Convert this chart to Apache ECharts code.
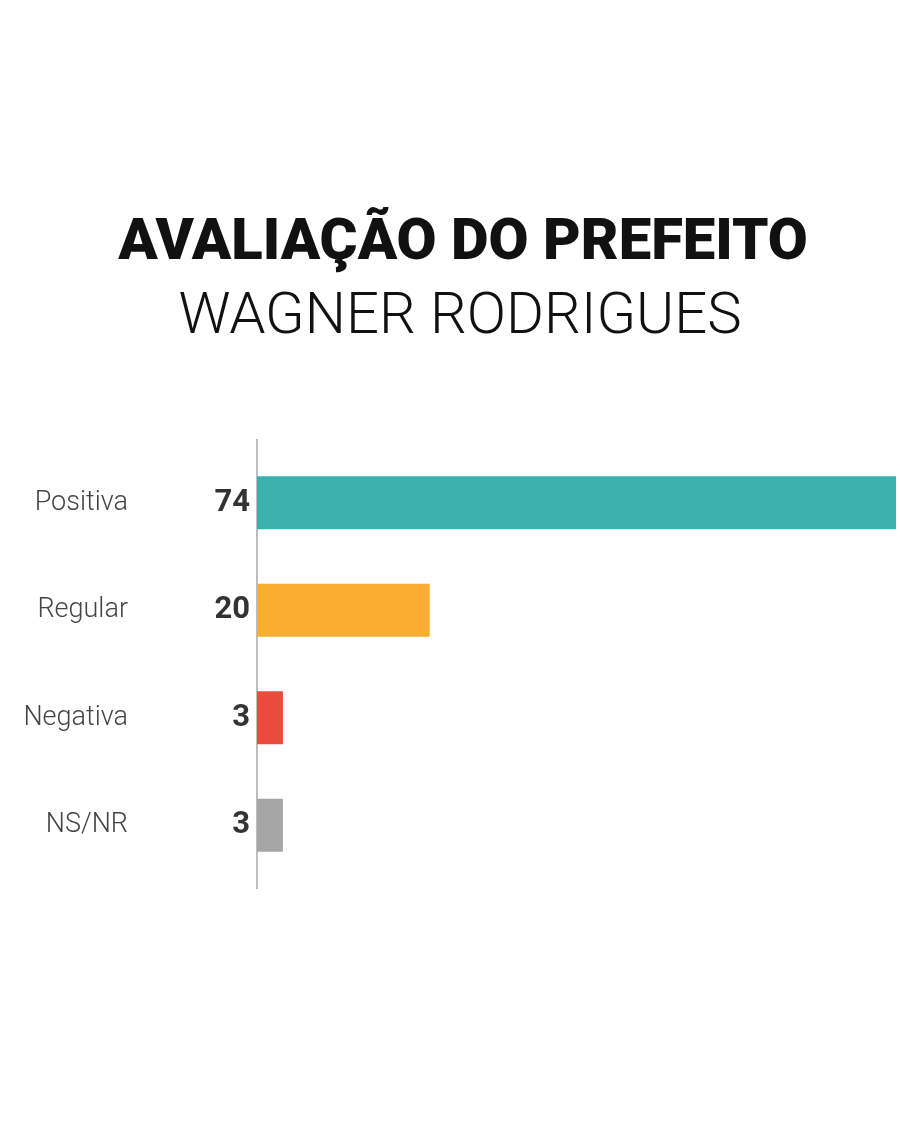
<!DOCTYPE html>
<html>
<head>
<meta charset="utf-8">
<script src="https://cdn.jsdelivr.net/npm/echarts@6/dist/echarts.min.js"></script>
<style>
  html, body { margin: 0; padding: 0; background: #fff; }
  #chart { width: 900px; height: 1145px; }
</style>
</head>
<body>
<div id="chart"></div>
<script>
// data
const categories = ["Positiva", "Regular", "Negativa", "NS/NR"];
const values = [74, 20, 3, 3];
const barColors = ["#3bb1ae", "#f9ad31", "#e84c3d", "#a6a6a6"];

const chart = echarts.init(document.getElementById("chart"));

const option = {
  backgroundColor: "#ffffff",
  animation: false,
  title: [
    {
      text: "AVALIAÇÃO DO PREFEITO",
      left: 458,
      textAlign: "center",
      top: 210,
      textStyle: {
        fontFamily: "Roboto",
        fontWeight: 900,
        fontSize: 58,
        color: "#111111"
      }
    },
    {
      text: "WAGNER RODRIGUES",
      left: 455,
      textAlign: "center",
      top: 284,
      textStyle: {
        fontFamily: "Roboto",
        fontWeight: 300,
        fontSize: 58,
        color: "#111111"
      }
    }
  ],
  grid: { left: 257, right: 4, top: 449, height: 430, containLabel: false },
  xAxis: {
    type: "value",
    min: 0,
    max: 74,
    show: false
  },
  yAxis: {
    type: "category",
    inverse: true,
    data: categories,
    axisTick: { show: false },
    axisLine: {
      show: true,
      symbol: ["rect", "rect"],
      symbolSize: [2, 20],
      lineStyle: { color: "#bdbdbd", width: 2 }
    },
    axisLabel: {
      margin: 129,
      fontFamily: "Roboto",
      fontWeight: 300,
      fontSize: 27,
      color: "#444444"
    }
  },
  series: [
    {
      type: "bar",
      barWidth: 53,
      data: values.map((v, i) => ({ value: v, itemStyle: { color: barColors[i] } })),
      label: {
        show: true,
        position: "left",
        distance: 7,
        fontFamily: "Roboto",
        fontWeight: "bold",
        fontSize: 31,
        color: "#333333"
      }
    }
  ]
};

chart.setOption(option);
</script>
</body>
</html>
